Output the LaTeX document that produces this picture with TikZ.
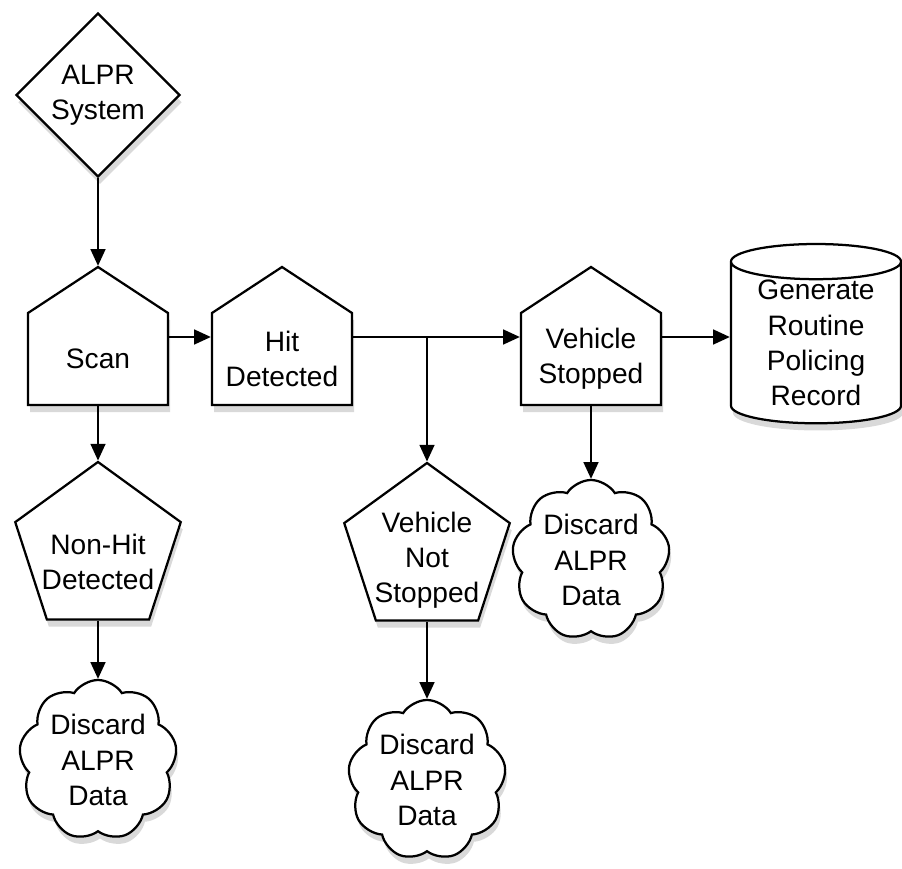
\documentclass[tikz,border=0pt]{standalone}
\usepackage{fontspec}
\setmainfont{Liberation Sans}
\usetikzlibrary{shapes.geometric,shapes.symbols,arrows.meta,shadows}
\begin{document}
\begin{tikzpicture}
  [x=0.025cm,y=-0.025cm,line width=1.6pt,>={Triangle[length=0.42cm,width=0.37cm]},
   every node/.style={align=center,inner sep=0pt,font=\fontsize{20}{25}\selectfont}]
  \tikzstyle{block} = [draw,fill=white,drop shadow={shadow xshift=0.5mm,shadow yshift=-1.8mm,opacity=0.3}]
  \tikzstyle{sysbox} = [block,diamond,aspect=1,minimum width=4.1cm,minimum height=4.1cm]
  \tikzstyle{housebody} = [rectangle,minimum width=3.5cm,minimum height=2.3cm]
  \tikzstyle{penta} = [block,regular polygon,regular polygon sides=5,minimum size=4.35cm]
  \tikzstyle{discard} = [block,cloud,cloud puffs=9,cloud puff arc=115,cloud ignores aspect,minimum width=3.95cm,minimum height=4cm]
  \tikzstyle{record} = [block,cylinder,shape border rotate=90,aspect=0.3,minimum width=4.25cm,minimum height=4.4cm]
  \useasboundingbox (0,0) rectangle (902,869);
  % house outlines first, text nodes on top
  \foreach \x in {98,282,591}
    \draw[block,line join=miter] (\x-70,405) -- (\x-70,313) -- (\x,267) -- (\x+70,313) -- (\x+70,405) -- cycle;
  \node[sysbox] (sys) at (98,95) {ALPR\\System};
  \node[housebody] (scan) at (98,359) {Scan};
  \node[housebody] (hit) at (282,359) {Hit\\Detected};
  \node[housebody] (stopped) at (591,359) {Vehicle\\Stopped};
  \node[record] (rec) at (816,343) {Generate\\Routine\\Policing\\Record};
  \node[penta,label={[yshift=-3.2mm]center:Non-Hit\\Detected}] (nohit) at (98,549) {};
  \node[penta,label={[yshift=-2.5mm]center:Vehicle\\Not\\Stopped}] (vns) at (427,550) {};
  \node[discard] (drop1) at (98,760) {Discard\\ALPR\\Data};
  \node[discard] (drop2) at (591,560) {Discard\\ALPR\\Data};
  \node[discard] (drop3) at (427,780) {Discard\\ALPR\\Data};
  \coordinate (fork) at (427,337);
  \foreach \from/\to in {scan/hit,hit/stopped}
    \draw[->] ([yshift=5.5mm]\from.east) -- ([yshift=5.5mm]\to.west);
  \draw[->] ([yshift=5.5mm]stopped.east) -- ([yshift=5.5mm]stopped.east -| rec.west);
  \draw[->] (sys.south) -- ([yshift=1.15cm]scan.north);
  \foreach \from/\to in {scan.south/nohit.north,nohit.south/drop1.north,
                         stopped.south/drop2.north,fork/vns.north,vns.south/drop3.north}
    \draw[->] (\from) -- (\to);
\end{tikzpicture}
\end{document}
